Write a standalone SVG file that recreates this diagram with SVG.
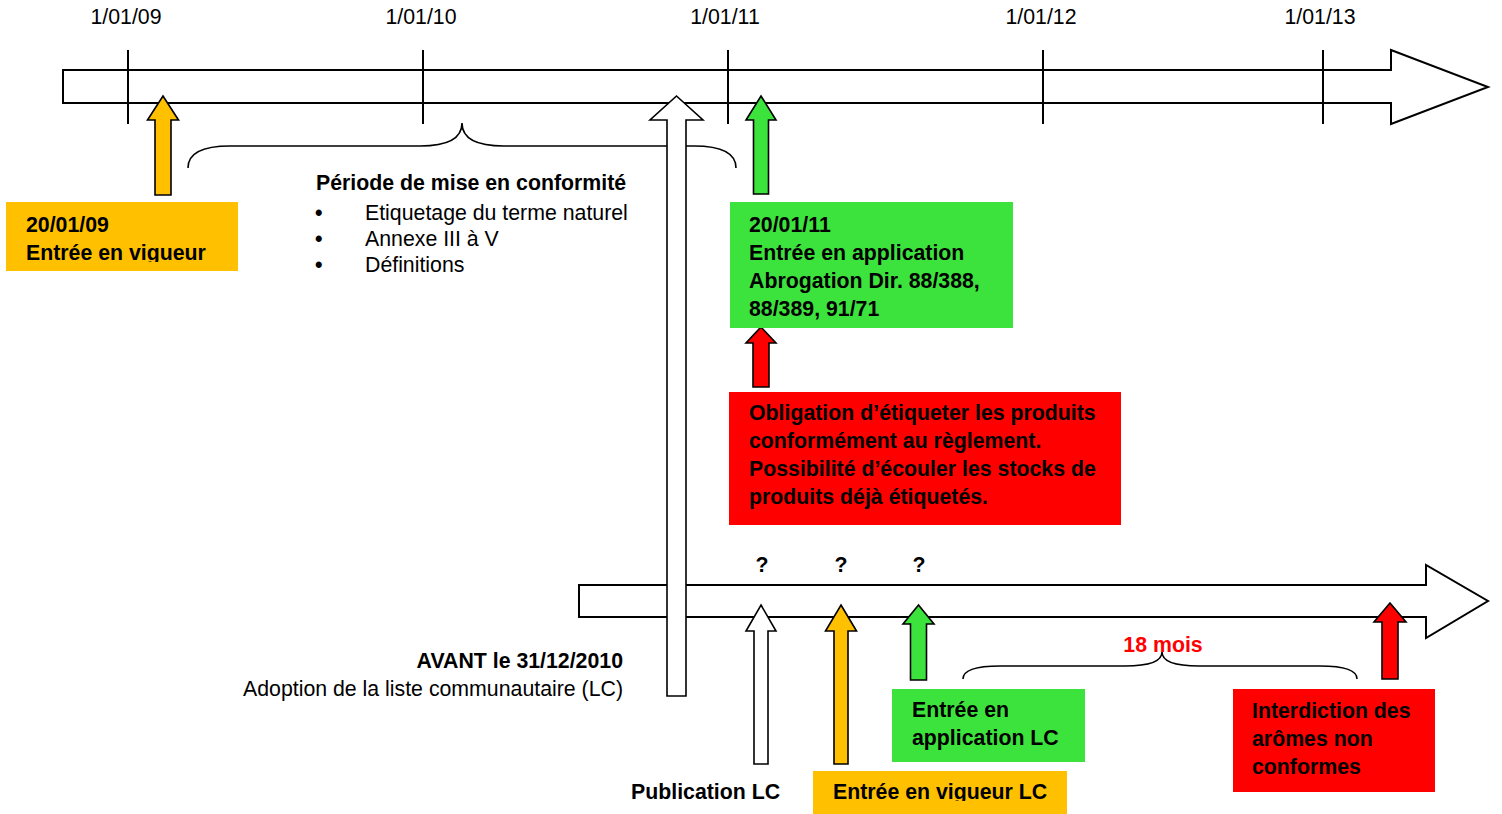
<svg xmlns="http://www.w3.org/2000/svg" width="1502" height="814" viewBox="0 0 1502 814">
<style>
text{font-family:"Liberation Sans",Arial,Helvetica,sans-serif;font-size:21.3px;fill:#000}
.b{font-weight:bold}
.bul{font-weight:bold}
.tl{fill:#fff;stroke:#000;stroke-width:2}
.tick{stroke:#000;stroke-width:2}
.arr{stroke:#000;stroke-width:1.6;stroke-linejoin:miter}
.brace{fill:none;stroke:#000;stroke-width:1.6}
.o{fill:#FFC000}.g{fill:#3DE33D}.r{fill:#FF0000}.w{fill:#fff}
</style>
<defs>
<clipPath id="c1"><rect x="0" y="200" width="240" height="62"/></clipPath>
<clipPath id="c2"><rect x="810" y="770" width="260" height="31"/></clipPath>
</defs>
<rect width="1502" height="814" fill="#fff"/>

<g id="timeline-top">
<polygon class="tl" points="63,70 1391,70 1391,50 1488,87 1391,124 1391,103 63,103"/>
<line class="tick" x1="128" y1="50" x2="128" y2="124"/>
<line class="tick" x1="423" y1="50" x2="423" y2="124"/>
<line class="tick" x1="728" y1="50" x2="728" y2="124"/>
<line class="tick" x1="1043" y1="50" x2="1043" y2="124"/>
<line class="tick" x1="1323" y1="50" x2="1323" y2="124"/>
<text x="126" y="24" text-anchor="middle">1/01/09</text>
<text x="421" y="24" text-anchor="middle">1/01/10</text>
<text x="725" y="24" text-anchor="middle">1/01/11</text>
<text x="1041" y="24" text-anchor="middle">1/01/12</text>
<text x="1320" y="24" text-anchor="middle">1/01/13</text>
</g>

<g id="timeline-bottom">
<polygon class="tl" points="579,585 1426,585 1426,565 1488,601 1426,638 1426,617 579,617"/>
<text class="b" x="762" y="572" text-anchor="middle" font-size="20">?</text>
<text class="b" x="841" y="572" text-anchor="middle" font-size="20">?</text>
<text class="b" x="919" y="572" text-anchor="middle" font-size="20">?</text>
</g>

<g id="connectors">
<path class="brace" d="M188,168 Q188,146 230,146 L420,146 Q462,146 462,123 Q462,146 504,146 L694,146 Q736,146 736,168"/>
<path class="brace" d="M963,679 Q963,666 1000,666 L1125,666 Q1162,666 1162,652 Q1162,666 1199,666 L1320,666 Q1357,666 1357,679"/>
<polygon class="arr o" points="163,96 178.5,120 171,120 171,195 155,195 155,120 147.5,120"/>
<polygon class="arr w" points="676.5,96 703,120 686,120 686,696 667,696 667,120 650,120"/>
<polygon class="arr g" points="761,96 776,120 768.5,120 768.5,194 753.5,194 753.5,120 746,120"/>
<polygon class="arr r" points="761,327 776,343 769,343 769,387 753,387 753,343 746,343"/>
<polygon class="arr w" points="761,605 776,631 768,631 768,764 754,764 754,631 746,631"/>
<polygon class="arr o" points="841,605 856.5,631 848,631 848,764 834,764 834,631 825.5,631"/>
<polygon class="arr g" points="918.5,605 934,624 926.5,624 926.5,680 910.5,680 910.5,624 903,624"/>
<polygon class="arr r" points="1390,603 1406,622 1398,622 1398,679 1382,679 1382,622 1374,622"/>
</g>

<g id="node-entree-vigueur">
<rect class="o" x="6" y="202" width="232" height="69"/>
<text class="b" x="26" y="232">20/01/09</text>
<text class="b" x="26" y="260" clip-path="url(#c1)">Entrée en vigueur</text>
</g>

<g id="node-periode">
<text class="b" x="316" y="190">Période de mise en conformité</text>
<text class="bul" x="315" y="220">•</text><text x="365" y="220">Etiquetage du terme naturel</text>
<text class="bul" x="315" y="246">•</text><text x="365" y="246">Annexe III à V</text>
<text class="bul" x="315" y="272">•</text><text x="365" y="272">Définitions</text>
</g>

<g id="node-entree-application">
<rect class="g" x="730" y="202" width="283" height="126"/>
<text class="b" x="749" y="232">20/01/11</text>
<text class="b" x="749" y="260">Entrée en application</text>
<text class="b" x="749" y="288">Abrogation Dir. 88/388,</text>
<text class="b" x="749" y="316">88/389, 91/71</text>
</g>

<g id="node-obligation">
<rect class="r" x="729" y="392" width="392" height="133"/>
<text class="b" x="749" y="420">Obligation d’étiqueter les produits</text>
<text class="b" x="749" y="448">conformément au règlement.</text>
<text class="b" x="749" y="476">Possibilité d’écouler les stocks de</text>
<text class="b" x="749" y="504">produits déjà étiquetés.</text>
</g>

<g id="node-avant">
<text class="b" x="623" y="668" text-anchor="end">AVANT le 31/12/2010</text>
<text x="623" y="696" text-anchor="end">Adoption de la liste communautaire (LC)</text>
</g>

<g id="node-publication">
<text class="b" x="631" y="799">Publication LC</text>
</g>

<g id="node-vigueur-lc">
<rect class="o" x="813" y="771" width="254" height="43"/>
<text class="b" x="833" y="799" clip-path="url(#c2)">Entrée en vigueur LC</text>
</g>

<g id="node-application-lc">
<rect class="g" x="892" y="689" width="193" height="73"/>
<text class="b" x="912" y="717">Entrée en</text>
<text class="b" x="912" y="745">application LC</text>
</g>

<g id="node-18mois">
<text class="b" x="1163" y="652" text-anchor="middle" style="fill:#FF0000">18 mois</text>
</g>

<g id="node-interdiction">
<rect class="r" x="1233" y="689" width="202" height="103"/>
<text class="b" x="1252" y="718">Interdiction des</text>
<text class="b" x="1252" y="746">arômes non</text>
<text class="b" x="1252" y="774">conformes</text>
</g>
</svg>
